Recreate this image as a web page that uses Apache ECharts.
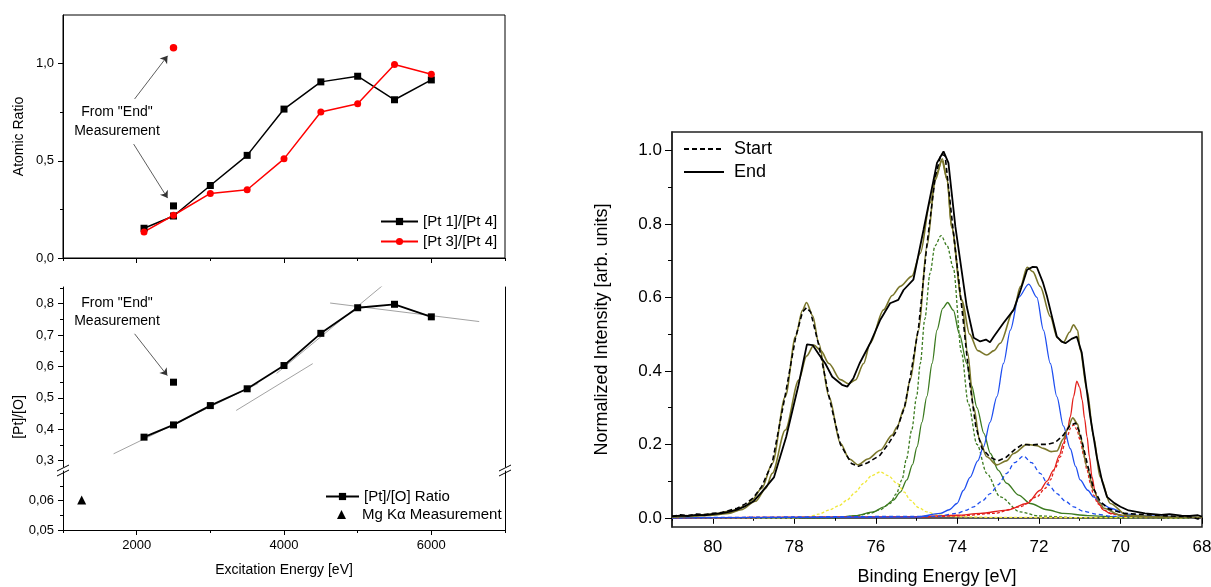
<!DOCTYPE html>
<html><head><meta charset="utf-8">
<script src="https://cdn.jsdelivr.net/npm/echarts@6/dist/echarts.min.js"></script>
<style>html,body{margin:0;padding:0;background:#fff}#c{width:1211px;height:587px}</style>
</head><body><div id="c"></div>
<script>
const FONT = "'Liberation Sans', Arial, sans-serif";

// ---------- left panels (excitation energy dependence) ----------
const energies = [2100, 2500, 3000, 3500, 4000, 4500, 5000, 5500, 6000];
const pt1pt4 = [0.153, 0.216, 0.373, 0.528, 0.766, 0.906, 0.935, 0.814, 0.916];
const pt3pt4 = [0.134, 0.220, 0.332, 0.351, 0.510, 0.751, 0.794, 0.995, 0.945];
const endPt1pt4 = [[2500, 0.268]];
const endPt3pt4 = [[2500, 1.082]];
const ptORatio = [0.375, 0.414, 0.4755, 0.529, 0.603, 0.7055, 0.787, 0.798, 0.758];
const endPtO = [[2500, 0.55]];
const mgKa = [[1254, 0.0602]];
const tangentA = [[1687, 0.322], [3650, 0.546]];
const tangentB = [[3351, 0.460], [4390, 0.609]];
const tangentC = [[3900, 0.578], [5407, 0.871]];
const tangentD = [[4626, 0.802], [6650, 0.743]];
const arrowsTop = [[[1972, 0.818], [2420, 1.040]], [[1959, 0.586], [2420, 0.308]]];
const arrowsBottom = [[[1972, 0.704], [2416, 0.571]]];
const energyMajor = [2000, 4000, 6000];
const energyMinor = [1000, 3000, 5000, 7000];
const ratioMajor = [0, 0.5, 1.0];
const ratioMinor = [0.25, 0.75];
const ptoMajor = [0.3, 0.4, 0.5, 0.6, 0.7, 0.8];
const ptoMinor = [0.35, 0.45, 0.55, 0.65, 0.75, 0.85];
const lowMajor = [0.05, 0.06];
const lowMinor = [0.055, 0.065];

// ---------- right panel (Pt 4f spectra) ----------
const beMajor = [80, 78, 76, 74, 72, 70, 68];
const beMinor = [81, 79, 77, 75, 73, 71, 69];
const intMajor = [0, 0.2, 0.4, 0.6, 0.8, 1.0];
const intMinor = [0.1, 0.3, 0.5, 0.7, 0.9];

const startData = [[81,0.004],[80.8,0.008],[80.6,0.006],[80.4,0.01],[80.2,0.009],[80,0.012],[79.8,0.014],[79.6,0.02],[79.4,0.026],[79.2,0.038],[79.0,0.055],[78.8,0.085],[78.54,0.15],[78.22,0.335],[77.97,0.49],[77.8,0.56],[77.7,0.572],[77.6,0.56],[77.4,0.47],[77.15,0.33],[76.87,0.2],[76.6,0.148],[76.43,0.14],[76.2,0.15],[75.9,0.17],[75.7,0.2],[75.5,0.235],[75.3,0.3],[75.16,0.38],[74.95,0.52],[74.75,0.74],[74.54,0.93],[74.4,0.99],[74.3,0.985],[74.15,0.83],[74.0,0.68],[73.85,0.53],[73.7,0.37],[73.55,0.25],[73.4,0.19],[73.2,0.165],[73.0,0.155],[72.8,0.165],[72.6,0.185],[72.4,0.2],[72.2,0.198],[72.0,0.2],[71.8,0.2],[71.6,0.205],[71.4,0.225],[71.25,0.25],[71.1,0.258],[70.99,0.23],[70.82,0.15],[70.66,0.08],[70.5,0.045],[70.3,0.025],[70.1,0.018],[69.9,0.012],[69.6,0.01],[69.3,0.008],[69.0,0.006],[68.6,0.004],[68.3,0.003],[68.1,-0.003],[68,0.002]];
const endData = [[81,0.004],[80.8,0.006],[80.6,0.005],[80.4,0.008],[80.2,0.007],[80,0.01],[79.8,0.012],[79.6,0.016],[79.4,0.022],[79.2,0.032],[79.0,0.045],[78.8,0.07],[78.5,0.11],[78.2,0.22],[77.9,0.36],[77.69,0.472],[77.55,0.47],[77.4,0.445],[77.24,0.42],[77.07,0.384],[76.83,0.362],[76.7,0.357],[76.55,0.38],[76.4,0.42],[76.14,0.475],[75.89,0.539],[75.65,0.584],[75.45,0.593],[75.32,0.62],[75.08,0.648],[74.83,0.784],[74.5,0.966],[74.34,0.997],[74.22,0.966],[74.05,0.793],[73.77,0.575],[73.6,0.49],[73.44,0.48],[73.3,0.485],[73.2,0.478],[73.11,0.493],[72.87,0.53],[72.62,0.566],[72.45,0.62],[72.29,0.675],[72.15,0.683],[72.05,0.682],[71.9,0.64],[71.8,0.602],[71.56,0.493],[71.45,0.48],[71.35,0.475],[71.2,0.487],[71.07,0.493],[70.95,0.45],[70.74,0.275],[70.58,0.166],[70.45,0.1],[70.33,0.057],[70.15,0.04],[70.0,0.03],[69.8,0.02],[69.6,0.016],[69.4,0.012],[69.2,0.01],[69.0,0.008],[68.8,0.01],[68.5,0.006],[68.3,0.005],[68.1,0.007],[68,0.003]];
const startFit = [[81,0.003],[80.5,0.006],[80,0.01],[79.5,0.02],[79.2,0.032],[79.04,0.048],[78.8,0.08],[78.54,0.148],[78.22,0.33],[77.97,0.493],[77.8,0.565],[77.7,0.586],[77.55,0.55],[77.4,0.475],[77.15,0.33],[76.87,0.203],[76.65,0.16],[76.43,0.144],[76.2,0.16],[75.89,0.184],[75.6,0.225],[75.48,0.248],[75.3,0.3],[75.16,0.375],[74.95,0.511],[74.75,0.738],[74.54,0.92],[74.37,0.977],[74.25,0.92],[74.14,0.79],[73.89,0.59],[73.75,0.45],[73.6,0.3],[73.45,0.21],[73.28,0.166],[73.03,0.144],[72.8,0.155],[72.62,0.175],[72.29,0.2],[72.05,0.196],[71.89,0.189],[71.7,0.18],[71.56,0.182],[71.4,0.215],[71.31,0.239],[71.17,0.272],[71.05,0.255],[70.99,0.221],[70.82,0.139],[70.66,0.075],[70.5,0.04],[70.41,0.026],[70.0,0.007],[69.5,0.003],[68,0.001]];
const endFit = [[81,0.002],[80.5,0.004],[80,0.007],[79.61,0.012],[79.3,0.022],[78.95,0.045],[78.7,0.08],[78.54,0.121],[78.22,0.239],[77.89,0.375],[77.7,0.44],[77.52,0.47],[77.35,0.455],[77.15,0.42],[76.87,0.376],[76.67,0.365],[76.5,0.375],[76.3,0.42],[76.14,0.475],[75.81,0.566],[75.6,0.605],[75.4,0.63],[75.12,0.657],[74.91,0.72],[74.67,0.857],[74.5,0.94],[74.38,0.972],[74.25,0.92],[74.14,0.79],[73.89,0.593],[73.7,0.5],[73.5,0.455],[73.28,0.443],[73.1,0.455],[72.95,0.475],[72.62,0.566],[72.45,0.63],[72.29,0.682],[72.15,0.67],[71.97,0.63],[71.72,0.548],[71.55,0.49],[71.4,0.477],[71.25,0.505],[71.15,0.525],[71.05,0.51],[70.99,0.457],[70.82,0.348],[70.66,0.221],[70.5,0.112],[70.25,0.039],[69.84,0.007],[69,0.002],[68,0.001]];
const greenDashed = [[81,0],[77,0],[76.5,0.005],[76.14,0.012],[75.9,0.022],[75.65,0.039],[75.5,0.065],[75.36,0.103],[75.25,0.16],[75.12,0.239],[75.0,0.33],[74.91,0.42],[74.8,0.54],[74.67,0.666],[74.55,0.74],[74.4,0.768],[74.25,0.74],[74.1,0.68],[73.9,0.45],[73.73,0.31],[73.52,0.2],[73.28,0.121],[72.95,0.057],[72.46,0.016],[72,0.005],[71,0],[68,0]];
const greenSolid = [[81,0],[77,0.001],[76.5,0.006],[76.06,0.016],[75.8,0.03],[75.57,0.048],[75.4,0.07],[75.24,0.103],[75.1,0.145],[74.99,0.193],[74.87,0.26],[74.75,0.33],[74.62,0.42],[74.5,0.511],[74.36,0.57],[74.24,0.586],[74.1,0.565],[73.95,0.5],[73.77,0.42],[73.65,0.36],[73.52,0.3],[73.35,0.23],[73.19,0.175],[73.0,0.13],[72.79,0.094],[72.5,0.062],[72.21,0.039],[71.8,0.022],[71.4,0.012],[70.8,0.006],[70,0.002],[68,0]];
const yellowDashed = [[81,0],[78,0],[77.64,0.003],[77.4,0.01],[77.15,0.021],[76.9,0.033],[76.71,0.048],[76.5,0.07],[76.3,0.094],[76.1,0.115],[75.89,0.125],[75.7,0.115],[75.48,0.094],[75.3,0.07],[75.16,0.048],[74.95,0.028],[74.75,0.016],[74.5,0.008],[74,0.003],[73,0.001],[68,0]];
const blueSolid = [[81,0],[75,0.002],[74.42,0.012],[74.2,0.022],[74.01,0.039],[73.85,0.075],[73.69,0.11],[73.5,0.155],[73.36,0.193],[73.2,0.26],[73.03,0.33],[72.87,0.42],[72.7,0.511],[72.5,0.6],[72.25,0.636],[72.05,0.6],[71.89,0.511],[71.72,0.42],[71.56,0.33],[71.4,0.25],[71.23,0.188],[71.1,0.14],[70.99,0.103],[70.8,0.075],[70.66,0.057],[70.45,0.038],[70.25,0.026],[69.84,0.01],[69.4,0.005],[68,0]];
const blueDashed = [[81,0],[74.5,0.004],[74.01,0.012],[73.8,0.02],[73.6,0.03],[73.4,0.045],[73.19,0.066],[73.0,0.09],[72.79,0.121],[72.6,0.15],[72.38,0.168],[72.18,0.15],[71.97,0.121],[71.77,0.09],[71.56,0.066],[71.35,0.045],[71.15,0.03],[70.91,0.018],[70.6,0.01],[70.2,0.004],[68,0]];
const redSolid = [[81,0],[75,0.003],[74,0.007],[73.44,0.012],[72.79,0.021],[72.29,0.039],[71.97,0.075],[71.8,0.1],[71.64,0.13],[71.5,0.17],[71.4,0.203],[71.3,0.24],[71.23,0.275],[71.15,0.33],[71.07,0.372],[71.0,0.355],[70.94,0.321],[70.88,0.27],[70.82,0.221],[70.76,0.165],[70.7,0.112],[70.62,0.07],[70.54,0.039],[70.4,0.02],[70.25,0.012],[69.8,0.004],[68,0]];
const redDashed = [[81,0],[75,0.002],[74,0.005],[73.11,0.012],[72.46,0.03],[72.05,0.057],[71.85,0.08],[71.72,0.103],[71.6,0.135],[71.48,0.166],[71.31,0.221],[71.22,0.245],[71.15,0.253],[71.07,0.24],[70.99,0.212],[70.9,0.17],[70.82,0.13],[70.74,0.095],[70.66,0.062],[70.55,0.038],[70.41,0.021],[70.2,0.01],[69.8,0.004],[68,0]];

const pairs = (xs, ys) => xs.map((x, i) => [x, ys[i]]);
const comma1 = v => v.toFixed(1).replace('.', ',');
const comma2 = v => v.toFixed(2).replace('.', ',');
const plain = v => String(v);
const BLACK = '#000';
const OLIVE = '#7b772c';
const GREEN = '#3b7a1f';
const BLUE = '#1f4ff0';
const RED = '#e3201b';
const YELLOW = '#f0e83a';

function axis(o) {
  return Object.assign({
    type: 'value', splitLine: { show: false },
    axisLine: { show: false }, axisTick: { show: false }, axisLabel: { show: false }
  }, o);
}
const lineCol = { color: '#000', width: 1 };
function major(vals, len, labelOpt) {
  const o = { axisTick: { show: true, customValues: vals, length: len, lineStyle: lineCol } };
  if (labelOpt) o.axisLabel = Object.assign({ show: true, customValues: vals, color: '#000', fontFamily: FONT }, labelOpt);
  return o;
}

const xAxis = [
  axis(Object.assign({ gridIndex: 0, min: 1000, max: 7000, position: 'bottom', axisLine: { show: true, lineStyle: lineCol } }, major(energyMajor, 5))),
  axis(Object.assign({ gridIndex: 0, min: 1000, max: 7000, position: 'bottom' }, major(energyMinor, 3))),
  axis({ gridIndex: 1, min: 1000, max: 7000, show: false }),
  axis(Object.assign({ gridIndex: 2, min: 1000, max: 7000, position: 'bottom', axisLine: { show: true, lineStyle: lineCol },
    name: 'Excitation Energy [eV]', nameLocation: 'middle', nameGap: 33, nameTextStyle: { fontSize: 14, fontFamily: FONT, color: '#000' } },
    major(energyMajor, 5, { fontSize: 13, margin: 9, formatter: plain }))),
  axis(Object.assign({ gridIndex: 2, min: 1000, max: 7000, position: 'bottom' }, major(energyMinor, 3))),
  axis(Object.assign({ gridIndex: 3, min: 68, max: 81, inverse: true, position: 'bottom', axisLine: { show: true, lineStyle: { color: '#222', width: 1.5 } },
    name: 'Binding Energy [eV]', nameLocation: 'middle', nameGap: 41, nameTextStyle: { fontSize: 18, fontFamily: FONT, color: '#000' } },
    major(beMajor, 6, { fontSize: 17, margin: 12, formatter: plain }))),
  axis(Object.assign({ gridIndex: 3, min: 68, max: 81, inverse: true, position: 'bottom' }, major(beMinor, 3)))
];

const yAxis = [
  axis(Object.assign({ gridIndex: 0, min: 0, max: 1.25, position: 'left', axisLine: { show: true, lineStyle: lineCol },
    name: 'Atomic Ratio', nameLocation: 'middle', nameGap: 37, nameTextStyle: { fontSize: 14, fontFamily: FONT, color: '#000' } },
    major(ratioMajor, 5, { fontSize: 13, margin: 9, formatter: comma1 }))),
  axis(Object.assign({ gridIndex: 0, min: 0, max: 1.25, position: 'left' }, major(ratioMinor, 3))),
  axis(Object.assign({ gridIndex: 1, min: 0.28, max: 0.853, position: 'left', axisLine: { show: true, lineStyle: lineCol } },
    major(ptoMajor, 5, { fontSize: 13, margin: 9, formatter: comma1 }))),
  axis(Object.assign({ gridIndex: 1, min: 0.28, max: 0.853, position: 'left' }, major(ptoMinor, 3))),
  axis({ gridIndex: 1, min: 0.28, max: 0.853, position: 'right', axisLine: { show: true, lineStyle: lineCol } }),
  axis(Object.assign({ gridIndex: 2, min: 0.05, max: 0.07, position: 'left', axisLine: { show: true, lineStyle: lineCol } },
    major(lowMajor, 5, { fontSize: 13, margin: 9, formatter: comma2 }))),
  axis(Object.assign({ gridIndex: 2, min: 0.05, max: 0.07, position: 'left' }, major(lowMinor, 3))),
  axis({ gridIndex: 2, min: 0.05, max: 0.07, position: 'right', axisLine: { show: true, lineStyle: lineCol } }),
  axis(Object.assign({ gridIndex: 3, min: -0.025, max: 1.05, position: 'left', axisLine: { show: true, lineStyle: { color: '#222', width: 1.5 } },
    name: 'Normalized Intensity [arb. units]', nameLocation: 'middle', nameGap: 61, nameTextStyle: { fontSize: 18, fontFamily: FONT, color: '#000' } },
    major(intMajor, 7, { fontSize: 17, margin: 10, formatter: v => v.toFixed(1) }))),
  axis(Object.assign({ gridIndex: 3, min: -0.025, max: 1.05, position: 'left' }, major(intMinor, 4)))
];

const arrowLine = (segs) => ({
  silent: true, symbol: ['none', 'arrow'], symbolSize: 7, label: { show: false },
  lineStyle: { color: '#333', width: 0.8, type: 'solid' }, emphasis: { disabled: true },
  data: segs.map(s => [{ coord: s[0] }, { coord: s[1] }])
});

const series = [
  { name: '[Pt 1]/[Pt 4]', type: 'line', xAxisIndex: 0, yAxisIndex: 0, data: pairs(energies, pt1pt4),
    symbol: 'rect', symbolSize: 7, lineStyle: { color: BLACK, width: 1.5 }, itemStyle: { color: BLACK } },
  { name: '[Pt 3]/[Pt 4]', type: 'line', xAxisIndex: 0, yAxisIndex: 0, data: pairs(energies, pt3pt4),
    symbol: 'circle', symbolSize: 7, lineStyle: { color: '#ff0000', width: 1.5 }, itemStyle: { color: '#ff0000' } },
  { name: 'end1', type: 'scatter', xAxisIndex: 0, yAxisIndex: 0, data: endPt1pt4, symbol: 'rect', symbolSize: 7,
    itemStyle: { color: BLACK, opacity: 1 }, markLine: arrowLine(arrowsTop) },
  { name: 'end3', type: 'scatter', xAxisIndex: 0, yAxisIndex: 0, data: endPt3pt4, symbol: 'circle', symbolSize: 7.5,
    itemStyle: { color: '#ff0000', opacity: 1 } }
];
[tangentA, tangentB, tangentC, tangentD].forEach((t, i) => series.push({
  name: 'tangent' + i, type: 'line', xAxisIndex: 2, yAxisIndex: 2, data: t, symbol: 'none',
  lineStyle: { color: '#8a8a8a', width: 0.8 }, z: 1
}));
series.push(
  { name: '[Pt]/[O] Ratio', type: 'line', xAxisIndex: 2, yAxisIndex: 2, data: pairs(energies, ptORatio),
    symbol: 'rect', symbolSize: 7, lineStyle: { color: BLACK, width: 1.8 }, itemStyle: { color: BLACK } },
  { name: 'endPtO', type: 'scatter', xAxisIndex: 2, yAxisIndex: 2, data: endPtO, symbol: 'rect', symbolSize: 7,
    itemStyle: { color: BLACK, opacity: 1 }, markLine: arrowLine(arrowsBottom) },
  { name: 'Mg K\u03b1 Measurement', type: 'scatter', xAxisIndex: 3, yAxisIndex: 5, data: mgKa, symbol: 'triangle', symbolSize: 9,
    symbolKeepAspect: true, itemStyle: { color: BLACK, opacity: 1 } }
);
function spec(name, data, color, dashed, width) {
  return { name: name, type: 'line', xAxisIndex: 5, yAxisIndex: 8, data: data, symbol: 'none',
    smooth: dashed === 'raw' ? false : 0.3, smoothMonotone: 'x', itemStyle: { color: color },
    lineStyle: { color: color, width: width || 1.3, type: (dashed === true ? [3, 2] : (Array.isArray(dashed) ? dashed : 'solid')) } };
}
series.push(
  spec('c1', greenDashed, GREEN, true),
  spec('c2', greenSolid, GREEN, false),
  spec('c3', yellowDashed, YELLOW, true),
  spec('c4', redDashed, RED, true),
  spec('c5', redSolid, RED, false),
  spec('c6', blueDashed, BLUE, [4, 3]),
  spec('c7', blueSolid, BLUE, false),
  spec('fitS', startFit, OLIVE, false, 1.6),
  spec('fitE', endFit, OLIVE, false, 1.6),
  Object.assign(spec('Start', startData, BLACK, 'raw', 1.6), { lineStyle: { color: BLACK, width: 1.6, type: [5, 3] } }),
  Object.assign(spec('End', endData, BLACK, 'raw', 1.8), { lineStyle: { color: BLACK, width: 1.8, type: 'solid' } })
);

const breakMarks = [];
[63, 505].forEach(x => {
  breakMarks.push({ type: 'line', shape: { x1: x - 6, y1: 471, x2: x + 6, y2: 465 }, style: { stroke: '#000', lineWidth: 1 } });
  breakMarks.push({ type: 'line', shape: { x1: x - 6, y1: 476, x2: x + 6, y2: 470 }, style: { stroke: '#000', lineWidth: 1 } });
});

const legendText = (size, pad) => ({ fontSize: size, color: '#000', fontFamily: FONT, padding: pad || 0 });
const option = {
  animation: false,
  backgroundColor: '#fff',
  textStyle: { fontFamily: FONT },
  grid: [
    { left: 63, top: 15, width: 442, height: 243, show: true, borderColor: '#000', borderWidth: 1, outerBoundsMode: 'none' },
    { left: 63, top: 287, width: 442, height: 180, outerBoundsMode: 'none' },
    { left: 63, top: 471, width: 442, height: 59, outerBoundsMode: 'none' },
    { left: 672, top: 132, width: 530, height: 395, show: true, borderColor: '#222', borderWidth: 1.5, outerBoundsMode: 'none' }
  ],
  xAxis: xAxis,
  yAxis: yAxis,
  legend: [
    { data: ['[Pt 1]/[Pt 4]', '[Pt 3]/[Pt 4]'], orient: 'vertical', left: 380, top: 214, padding: 0, itemWidth: 37, itemHeight: 9, itemGap: 5,
      textStyle: legendText(15), selectedMode: false },
    { data: ['[Pt]/[O] Ratio'], orient: 'vertical', left: 325, top: 489, padding: 0,
      itemWidth: 33, itemHeight: 9, textStyle: legendText(15), selectedMode: false },
    { data: [{ name: 'Mg K\u03b1 Measurement', icon: 'triangle' }], orient: 'vertical', left: 337, top: 507, padding: 0,
      itemWidth: 9, itemHeight: 9, textStyle: legendText(15, [0, 0, 0, 11]), selectedMode: false },
    { data: ['Start', 'End'], orient: 'vertical', left: 683, top: 140, padding: 0, itemWidth: 40, itemHeight: 14, itemGap: 5,
      itemStyle: { opacity: 0 }, textStyle: legendText(18, [0, 0, 0, 5]), selectedMode: false }
  ],
  graphic: [
    { type: 'text', x: 117, y: 122, style: { text: 'From "End"\nMeasurement', align: 'center', verticalAlign: 'middle',
      font: '14px ' + FONT, lineHeight: 19, fill: '#000' } },
    { type: 'text', x: 117, y: 312, style: { text: 'From "End"\nMeasurement', align: 'center', verticalAlign: 'middle',
      font: '14px ' + FONT, lineHeight: 18, fill: '#000' } },
    { type: 'text', x: 19, y: 417, rotation: Math.PI / 2, style: { text: '[Pt]/[O]', align: 'center', verticalAlign: 'middle',
      font: '14px ' + FONT, fill: '#000' } }
  ].concat(breakMarks),
  series: series
};
const chart = echarts.init(document.getElementById('c'), null, { renderer: 'canvas' });
chart.setOption(option);
</script></body></html>
